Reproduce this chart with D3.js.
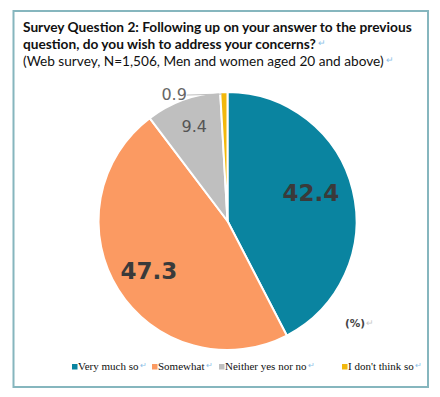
<!DOCTYPE html>
<html>
<head>
<meta charset="utf-8">
<script src="https://cdn.jsdelivr.net/npm/d3@7"></script>
<style>
  body { margin: 0; background: #fff; }
  svg { display: block; }
</style>
</head>
<body>
<svg width="440" height="397"></svg>
<script>
// survey answers, clockwise from 12 o'clock
var categories = ["Very much so", "Somewhat", "Neither yes nor no", "I don't think so"];
var values = [42.4, 47.3, 9.4, 0.9];
var colors = ["#0a84a0", "#fb9a62", "#bfbfbf", "#f2b80c"];
var titleLines = [
  "Survey Question 2: Following up on your answer to the previous",
  "question, do you wish to address your concerns?",
  "(Web survey, N=1,506, Men and women aged 20 and above)"
];

var svg = d3.select("svg");
var mark = "#8cc0e8"; // the little word-processor return marks

// frame
svg.append("rect")
  .attr("x", 13.5).attr("y", 11).attr("width", 414.5).attr("height", 376)
  .attr("fill", "none").attr("stroke", "#86b6be").attr("stroke-width", 2);

// title - size each line so it spans the same width as the original
var tg = svg.append("g").style("font-family", "Lato, 'Open Sans', sans-serif");
var titleY = [32, 49, 66], titleW = [389, 293, 361], titleBold = [true, true, false];
titleLines.forEach(function(line, i) {
  var t = tg.append("text").attr("x", 23).attr("y", titleY[i])
    .style("font-size", "14px").style("font-weight", titleBold[i] ? "bold" : "normal")
    .attr("fill", "#111").text(line);
  var w = t.node().getComputedTextLength();
  var fs = Math.min(14.5, 14 * titleW[i] / w);
  t.style("font-size", fs + "px");
  if (i > 0) {
    var w2 = t.node().getComputedTextLength();
    tg.append("text").attr("x", 23 + w2 + 2).attr("y", titleY[i] - 3)
      .attr("fill", mark).style("font-size", "9px").text("↵");
  }
});

// pie
var cx = 227.5, cy = 221, radius = 129;
var pie = d3.pie().sort(null).value(function(d) { return d; });
var arc = d3.arc().innerRadius(0).outerRadius(radius);
var arcs = pie(values);

var g = svg.append("g").attr("transform", "translate(" + cx + "," + cy + ")");
g.selectAll("path")
  .data(arcs)
  .enter().append("path")
  .attr("d", arc)
  .attr("fill", function(d, i) { return colors[i]; })
  .attr("stroke", "#fff")
  .attr("stroke-width", 2);

// value labels
var labelFont = "Verdana, 'DejaVu Sans', sans-serif";
function pos(i, r, shift) {
  var a = (arcs[i].startAngle + arcs[i].endAngle) / 2 + (shift || 0);
  return [Math.sin(a) * r, -Math.cos(a) * r];
}
var bigR = [88, 93], bigShift = [-0.09, 0];
[0, 1].forEach(function(i) {
  var p = pos(i, bigR[i], bigShift[i]);
  g.append("text")
    .attr("x", p[0]).attr("y", p[1])
    .attr("text-anchor", "middle").attr("dy", "0.36em")
    .style("font-family", labelFont).style("font-size", "23px").style("font-weight", "bold")
    .attr("fill", "#3a3a3a")
    .text(values[i]);
});
// 9.4 inside the grey slice
var p2 = pos(2, radius * 0.77);
g.append("text")
  .attr("x", p2[0] + 1).attr("y", p2[1] - 2)
  .attr("text-anchor", "middle").attr("dy", "0.36em")
  .style("font-family", labelFont).style("font-size", "16px")
  .attr("fill", "#555")
  .text(values[2]);
// 0.9 outside with a leader line
var p3 = pos(3, radius);
g.append("line")
  .attr("x1", p3[0] - 2).attr("y1", p3[1] + 2)
  .attr("x2", p3[0] - 37).attr("y2", p3[1] + 3)
  .attr("stroke", "#bfbfbf").attr("stroke-width", 1);
g.append("text")
  .attr("x", p3[0] - 37).attr("y", p3[1] + 2)
  .attr("text-anchor", "end").attr("dy", "0.36em")
  .style("font-family", labelFont).style("font-size", "16px")
  .attr("fill", "#666")
  .text(values[3]);

// unit
svg.append("text").attr("x", 345).attr("y", 327)
  .style("font-family", labelFont).style("font-size", "10.5px").style("font-weight", "bold")
  .attr("fill", "#444").text("(%)");
svg.append("text").attr("x", 366).attr("y", 326).attr("fill", "#c8c8c8")
  .style("font-size", "9px").text("↵");

// legend
var legendX = [72, 152, 219, 342];
var legendG = svg.selectAll(".legend")
  .data(categories)
  .enter().append("g")
  .attr("class", "legend")
  .attr("transform", function(d, i) { return "translate(" + legendX[i] + ",369)"; });

legendG.append("rect")
  .attr("x", 0).attr("y", -5)
  .attr("width", 5.5).attr("height", 5.5)
  .attr("fill", function(d, i) { return colors[i]; });

legendG.append("text")
  .attr("x", 6).attr("y", 1)
  .style("font-family", "'Liberation Serif', 'Times New Roman', serif")
  .style("font-size", "11px")
  .attr("fill", "#111")
  .text(function(d) { return d; })
  .each(function() {
    var w = this.getComputedTextLength();
    d3.select(this.parentNode).append("text")
      .attr("x", 6 + w + 1.5).attr("y", -1)
      .attr("fill", mark).style("font-size", "8px").text("↵");
  });
</script>
</body>
</html>
